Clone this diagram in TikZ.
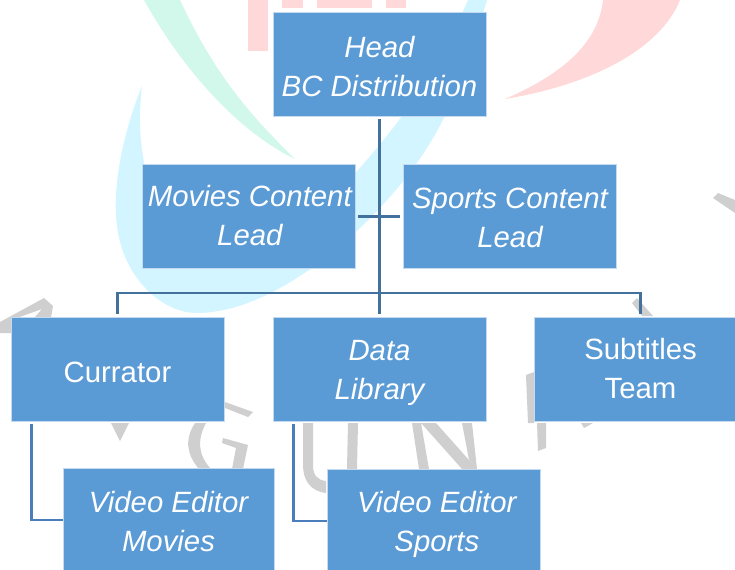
\documentclass[tikz,border=0pt]{standalone}
\usepackage{fontspec}
\setmainfont{Liberation Sans}
\definecolor{boxblue}{HTML}{5B9BD5}
\definecolor{boxedge}{HTML}{C4DAF0}
\definecolor{linedark}{HTML}{41719C}
\definecolor{linelight}{HTML}{4A7EBB}
\definecolor{wmpink}{HTML}{FFD9D9}
\definecolor{wmgreen}{HTML}{D2F7EB}
\definecolor{wmcyan}{HTML}{D3F5FF}
\definecolor{wmgray}{HTML}{CFCFCF}
\newcommand\dn[1]{\rule{0pt}{#1pt}}
\newcommand\upd[1]{\rule[-#1pt]{0pt}{0pt}}
\tikzset{
  orgbox/.style={draw=boxedge,line width=0.75pt,fill=boxblue,text=white,align=center,
    inner sep=0pt,minimum width=159.75pt,minimum height=78pt,
    font=\fontsize{22}{29.25}\selectfont},
  it/.style={font=\fontsize{22}{29.25}\selectfont\itshape},
  bus/.style={draw=linedark,line width=2.2pt},
  branch/.style={draw=linelight,line width=1.6pt},
  pinkwm/.style={fill=wmpink},
  greenwm/.style={fill=wmgreen},
  cyanwm/.style={fill=wmcyan},
  graywm/.style={fill=wmgray}
}
\begin{document}
\begin{tikzpicture}[x=0.75pt,y=-0.75pt]
\useasboundingbox (0,0) rectangle (735,569);
\clip (0,0) rectangle (735,569);
% watermark
\fill[pinkwm] (248,0) rectangle (268,51);
\fill[pinkwm] (282,0) rectangle (303,8);
\fill[pinkwm] (317,0) rectangle (372,8);
\fill[pinkwm] (386,0) rectangle (406,8);
\fill[pinkwm] (505,99) .. controls (560,75) and (598,45) .. (603,0) -- (680,0) .. controls (660,50) and (590,85) .. (505,99) -- cycle;
\fill[cyanwm] (142,86) .. controls (122,135) and (112,190) .. (117,225) .. controls (122,275) and (160,313) .. (197,313) .. controls (250,313) and (310,275) .. (358,230) .. controls (400,190) and (430,150) .. (450,105) .. controls (465,70) and (478,30) .. (487,0) -- (468,0) .. controls (450,40) and (425,95) .. (358,170) .. controls (300,230) and (230,250) .. (190,240) .. controls (155,220) and (133,160) .. (142,86) -- cycle;
\fill[greenwm] (144,0) .. controls (180,65) and (235,130) .. (295,159) .. controls (250,115) and (215,75) .. (180,0) -- cycle;
% gray letters
\fill[graywm] (0,322) -- (44,298) -- (53,306) -- (51,318) -- (34,318) -- (42,309) -- (17,318) -- (11,318) -- (11,333) -- (0,333) -- cycle;
\fill[graywm] (111,423) -- (129,423) -- (120,441) -- cycle;
\fill[graywm] (225,402) -- (253,412) -- (248,417) -- (225,408) -- cycle;
\fill[graywm] (195,423) -- (206,423) .. controls (197,440) and (198,455) .. (211,469) -- (199,469) .. controls (187,455) and (184,440) .. (195,423) -- cycle;
\fill[graywm] (223,438) -- (248,445) -- (243,469) -- (232,469) -- (236,448) -- (222,443) -- cycle;
\fill[graywm] (303,423) -- (313,423) -- (313,465) .. controls (313,475) and (317,480) .. (326,481) -- (326,493) .. controls (310,491) and (303,480) .. (303,465) -- cycle;
\fill[graywm] (348,423) -- (358,423) -- (357,469) -- (347,469) -- cycle;
\fill[graywm] (412,423) -- (421,423) -- (429,469) -- (419,469) -- cycle;
\fill[graywm] (421,423) -- (436,423) -- (477,469) -- (462,469) -- cycle;
\fill[graywm] (462,423) -- (472,423) -- (477,469) -- (469,460) -- cycle;
\fill[graywm] (526,375) -- (534,372) -- (534,423) -- (528,423) -- cycle;
\fill[graywm] (537,423) -- (546,423) -- (546,448) -- (538,451) -- cycle;
\fill[graywm] (581,423) -- (593,423) -- (584,428) -- cycle;
\fill[graywm] (718,193) -- (713,198) -- (735,213) -- (735,200) -- cycle;
\fill[graywm] (632,303) -- (637,298) -- (653,316) -- (642,316) -- cycle;
% boxes
\coordinate (busjoin) at (379.5,293);
\node[orgbox,it] (head) at (379.5,64) {\dn{20.1}Head\\BC Distribution};
\node[orgbox,it] (movies) at (248.5,216.5) {\hspace*{2pt}Movies Content\\\hspace*{2pt}Lead\upd{1.5}};
\node[orgbox,it] (sports) at (510,216.5) {\dn{17.1}Sports Content\\Lead};
\node[orgbox] (curator) at (117.5,369) {\dn{20.1}Currator};
\node[orgbox,it] (data) at (379.5,369) {\dn{21.6}Data\\Library};
\node[orgbox] (subs) at (640.5,369) {Subtitles\\Team};
\node[orgbox,it,minimum width=158.25pt] (vemovies) at (168.5,520) {\dn{18.6}Video Editor\\Movies};
\node[orgbox,it] (vesports) at (433.5,521) {\dn{21.6}\hspace*{5pt}Video Editor\\\hspace*{5pt}Sports};
% connectors
\draw[bus,shorten <=1.5pt,shorten >=2pt] (head.south) -- (data.north);
\draw[bus,shorten <=2pt,shorten >=2pt] (movies.east) -- (sports.west);
\draw[bus,shorten >=2pt] (busjoin) -| (curator.north);
\draw[bus,shorten >=2pt] (busjoin) -| (subs.north);
\draw[branch,shorten <=2pt] ([xshift=-64.5pt]curator.south) |- (vemovies.west);
\draw[branch,shorten <=2pt] ([xshift=-64.5pt]data.south) |- (vesports.west);
\end{tikzpicture}
\end{document}
